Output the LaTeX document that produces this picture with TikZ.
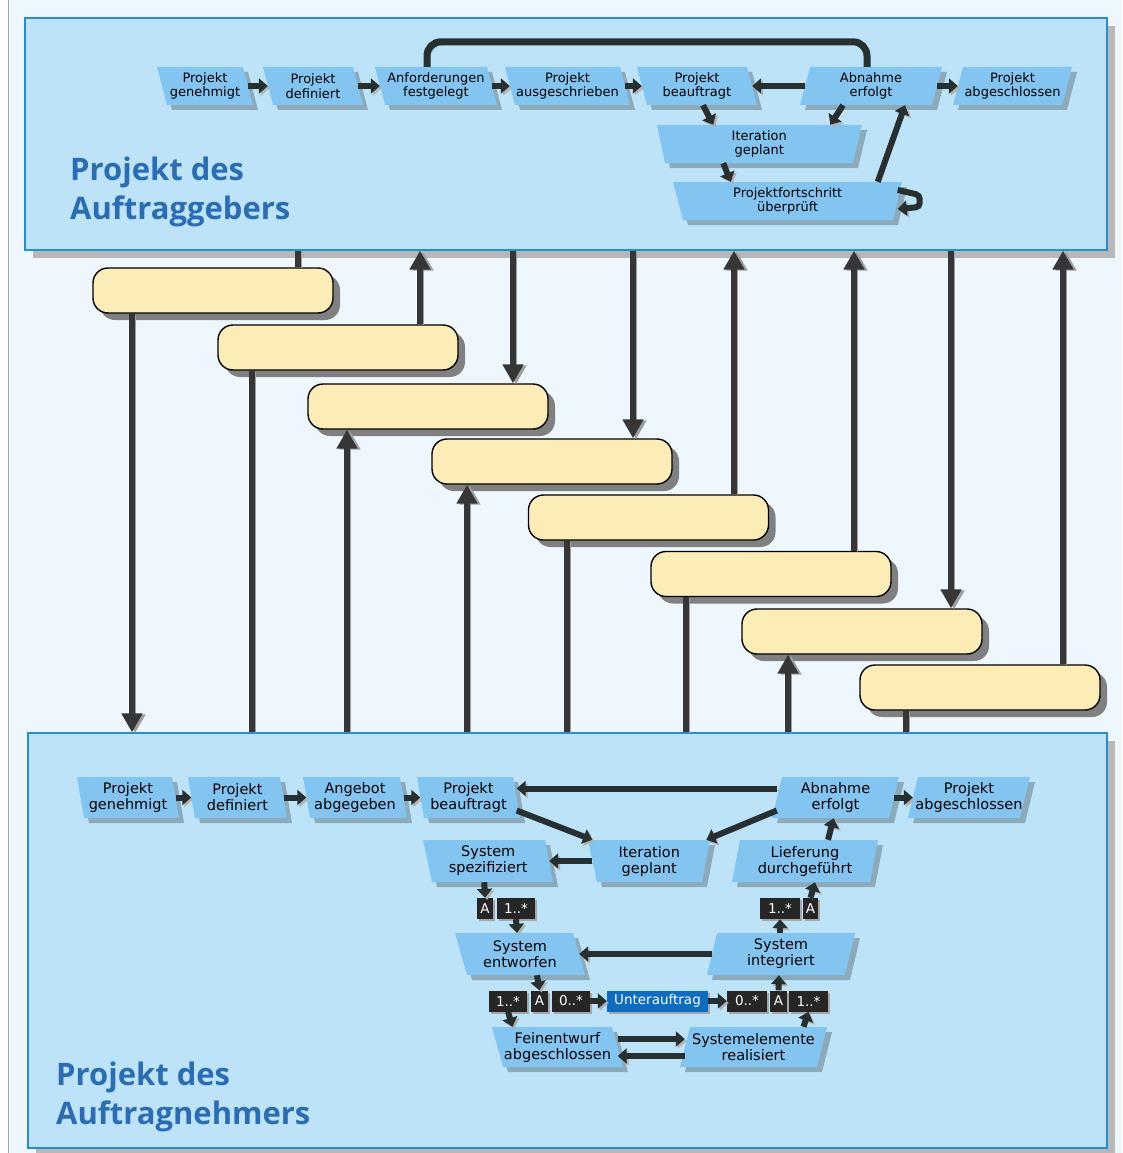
\documentclass[tikz,border=0pt]{standalone}
\usepackage{fontspec}
\setmainfont{DejaVu Sans}
\newfontfamily\titlefont{Open Sans}
\usetikzlibrary{arrows.meta}
\definecolor{pagebg}{HTML}{EFF7FE}
\definecolor{boxfill}{HTML}{BDE3F9}
\definecolor{boxline}{HTML}{2A8AD4}
\definecolor{gatefill}{HTML}{83C5F1}
\definecolor{yel}{HTML}{FCEDB6}
\definecolor{conncol}{HTML}{363636}
\definecolor{inkcol}{HTML}{263030}
\definecolor{titleblue}{HTML}{2A6DB5}
\definecolor{darklab}{HTML}{262626}
\definecolor{ublue}{HTML}{0C6BC2}
% name, x top-left, x top-right, x bottom-left, x bottom-right, y top, y bottom, text
\newcommand\gatenode[8]{%
  \fill[black,opacity=0.25] (#2+5,#6+5) -- (#3+5,#6+5) -- (#5+5,#7+5) -- (#4+5,#7+5) -- cycle;
  \fill[gatefill] (#2,#6) -- (#3,#6) -- (#5,#7) -- (#4,#7) -- cycle;
  \node[gtext, minimum width={(#3+#5-#2-#4)/2}, minimum height={#7-#6}] (#1) at ({(#2+#3+#4+#5)/4},{(#6+#7)/2}) {#8};}
\newcommand\labnode[5]{%
  \node[lab, minimum width={#3-#2}] (#1) at ({(#2+#3)/2},#4) {#5};}
\begin{document}
\begin{tikzpicture}[x=1pt,y=-1pt,
  bigbox/.style={draw=boxline, line width=1.3pt, fill=boxfill, inner sep=0pt,
    preaction={fill=black!28, transform canvas={shift={(8pt,-8pt)}}}},
  ybox/.style={draw=black, line width=1.4pt, fill=yel, rounded corners=15pt,
    minimum width=240pt, minimum height=45pt, inner sep=0pt,
    preaction={fill=black!50, transform canvas={shift={(7pt,-7pt)}}}},
  vline/.style={draw=conncol, line width=6pt,
    preaction={draw=black!38, transform canvas={shift={(3pt,-1pt)}}}},
  bigtip/.style={-{Triangle[length=19pt,width=20pt]}},
  inarr/.style={draw=inkcol, line width=6pt, -{Triangle[length=9pt,width=15pt]},
    preaction={draw=black!30, transform canvas={shift={(2pt,-2pt)}}}},
  loopline/.style={draw=inkcol, line width=7pt, rounded corners=14pt,
    preaction={draw=black!30, transform canvas={shift={(3pt,-3pt)}}}},
  lab/.style={fill=darklab, text=white, inner sep=0pt, minimum height=21pt,
    font=\fontsize{13.5}{13.5}\selectfont,
    preaction={fill=black!35, transform canvas={shift={(2pt,-2pt)}}}},
  ttl/.style={text=titleblue, inner sep=0pt, align=left,
    font=\titlefont\bfseries\fontsize{31}{39}\selectfont},
  gtext/.style={inner sep=0pt, align=center, font=\fontsize{13}{14.5}\selectfont}
]
\useasboundingbox (0,0) rectangle (1122,1153);
\fill[pagebg] (0,0) rectangle (1122,1153);
\fill[white] (0,0) rectangle (8,1153);
\draw[black!35, line width=1pt] (8.5,0) -- (8.5,1153);

% ---------- big boxes
\node[bigbox, minimum width=1082pt, minimum height=232pt] (topbox) at (566,134) {};
\node[bigbox, minimum width=1079pt, minimum height=415pt] (botbox) at (567.5,940.5) {};

% ---------- Auftraggeber
\gatenode{tPG}{157}{243}{167}{253}{67}{105}{Projekt\\genehmigt}
\gatenode{tPD}{263}{353}{273}{363}{67}{105}{Projekt\\definiert}
\gatenode{tAF}{375}{487}{385}{497}{67}{105}{Anforderungen\\festgelegt}
\gatenode{tPA}{505}{620}{515}{630}{67}{105}{Projekt\\ausgeschrieben}
\gatenode{tPB}{637}{747}{647}{757}{67}{105}{Projekt\\beauftragt}
\gatenode{tAE}{810}{942}{800}{932}{67}{105}{Abnahme\\erfolgt}
\gatenode{tPAbg}{963}{1072}{953}{1062}{67}{105}{Projekt\\abgeschlossen}
\gatenode{tIG}{657}{862}{665}{853}{125}{163}{Iteration\\geplant}
\gatenode{tPF}{673}{902}{683}{893}{182}{220}{Projektfortschritt\\überprüft}

\draw[inarr] (tPG) -- (tPD);
\draw[inarr] (tPD) -- (tAF);
\draw[inarr] (tAF) -- (tPA);
\draw[inarr] (tPA) -- (tPB);
\draw[inarr] (tAE) -- (tPB);
\draw[inarr] (tAE) -- (tPAbg);
\draw[loopline] ([xshift=-4pt]tAE.north) -- ++(0,-25) -| ([xshift=-9pt]tAF.north);
\draw[inarr] ([xshift=6pt]tPB.south) -- ([xshift=-46pt]tIG.north);
\draw[inarr] ([xshift=-28pt]tAE.south) -- ([xshift=71pt]tIG.north);
\draw[inarr] ([xshift=-36pt]tIG.south) -- ([xshift=-57pt]tPF.north);
\draw[inarr] ([xshift=90pt]tPF.north) -- ([xshift=34pt]tAE.south);
\draw[inarr, rounded corners=4pt] ([yshift=11pt]tPF.east) -- ++(22,5) -- ++(0,12) -- ([yshift=-8pt]tPF.east);

\node[ttl, anchor=north west] (tttl) at (70,157) {Projekt des\\Auftraggebers};

% ---------- Auftragnehmer
\begin{scope}[gtext/.style={inner sep=0pt, align=center, font=\fontsize{14.5}{16}\selectfont}]
\gatenode{bPG}{77}{172}{84}{179}{777}{818}{Projekt\\genehmigt}
\gatenode{bPD}{188}{280}{195}{287}{777}{818}{Projekt\\definiert}
\gatenode{bAA}{303}{400}{310}{407}{777}{818}{Angebot\\abgegeben}
\gatenode{bPB}{417}{513}{424}{520}{777}{818}{Projekt\\beauftragt}
\gatenode{bAE}{782}{899}{772}{889}{777}{818}{Abnahme\\erfolgt}
\gatenode{bPAbg}{918}{1030}{908}{1020}{777}{818}{Projekt\\abgeschlossen}
\gatenode{bSS}{423}{545}{432}{553}{840}{882}{System\\spezifiziert}
\gatenode{bIG}{588}{710}{597}{702}{840}{882}{Iteration\\geplant}
\gatenode{bLD}{740}{878}{732}{870}{840}{882}{Lieferung\\durchgeführt}
\gatenode{bSE}{455}{573}{467}{585}{933}{975}{System\\entworfen}
\gatenode{bSI}{717}{855}{707}{845}{933}{975}{System\\integriert}
\gatenode{bFA}{492}{612}{503}{623}{1027}{1067}{Feinentwurf\\abgeschlossen}
\gatenode{bSR}{690}{827}{680}{817}{1027}{1067}{Systemelemente\\realisiert}
\end{scope}

\labnode{lA1}{477}{493}{908.5}{A}
\labnode{l1a}{497}{535}{908.5}{1..*}
\labnode{r1a}{760}{800}{908.5}{1..*}
\labnode{rA1}{803}{818}{908.5}{A}
\labnode{m1}{489}{527}{1001}{1..*}
\labnode{mA}{531}{548}{1001}{A}
\labnode{m0}{552}{590}{1001}{0..*}
\node[lab, fill=ublue, minimum width=101pt] (U) at (657.5,1001) {Unterauftrag};
\labnode{n0}{727}{767}{1001}{0..*}
\labnode{nA}{770}{787}{1001}{A}
\labnode{n1}{789}{828}{1001}{1..*}

\draw[inarr] (bPG) -- (bPD);
\draw[inarr] (bPD) -- (bAA);
\draw[inarr] (bAA) -- (bPB);
\draw[inarr] ([yshift=9pt]bAE.west) -- ([yshift=9pt]bPB.east);
\draw[inarr] (bAE) -- (bPAbg);
\draw[inarr] ([yshift=-13pt]bPB.east) -- (bIG.north west);
\draw[inarr] ([yshift=-13pt]bAE.west) -- (bIG.north east);
\draw[inarr] (bIG) -- (bSS);
\draw[inarr] ([xshift=-4pt]bSS.south) -- (lA1.north);
\draw[inarr] (l1a.south) -- ([xshift=-3pt]bSE.north);
\draw[inarr] (bSI) -- (bSE);
\draw[inarr] ([xshift=17pt]bSE.south) -- (mA.north);
\draw[inarr] (m1.south) -- ([xshift=-45pt]bFA.north);
\draw[inarr] (m0) -- (U);
\draw[inarr] (U) -- (n0);
\draw[inarr] (nA.north) -- ([xshift=-2pt]bSI.south);
\draw[inarr] ([xshift=50pt]bSR.north) -- (n1.south);
\draw[inarr] ([yshift=8pt]bFA.east) -- ([yshift=8pt]bSR.west);
\draw[inarr] ([yshift=-9pt]bSR.west) -- ([yshift=-9pt]bFA.east);
\draw[inarr] ([xshift=-1pt]bSI.north) -- (r1a.south);
\draw[inarr] (rA1.north) -- ([xshift=10pt]bLD.south);
\draw[inarr] ([xshift=23pt]bLD.north) -- ([xshift=-2pt]bAE.south);

\node[ttl, anchor=north west] (bttl) at (56,1062) {Projekt des\\Auftragnehmers};

% ---------- decision gates between the two projects
\node[ybox] (Y1) at (213,290.5) {};
\node[ybox] (Y2) at (338,347.5) {};
\node[ybox] (Y3) at (428,406.5) {};
\node[ybox] (Y4) at (552,461.5) {};
\node[ybox] (Y5) at (648.5,517.5) {};
\node[ybox] (Y6) at (771,574) {};
\node[ybox] (Y7) at (862,631.5) {};
\node[ybox] (Y8) at (980,687.5) {};

\coordinate (v1) at (298,0);
\coordinate (v2) at (132,0);
\coordinate (v3) at (420,0);
\coordinate (v4) at (252,0);
\coordinate (v5) at (513,0);
\coordinate (v6) at (347,0);
\coordinate (v7) at (633,0);
\coordinate (v8) at (467,0);
\coordinate (v9) at (734,0);
\coordinate (v10) at (567,0);
\coordinate (v11) at (854,0);
\coordinate (v12) at (686,0);
\coordinate (v13) at (951,0);
\coordinate (v14) at (788,0);
\coordinate (v15) at (1063,0);
\coordinate (v16) at (906,0);

\draw[vline] (topbox.south -| v1) -- (Y1.north -| v1);
\draw[vline, bigtip] (Y1.south -| v2) -- (botbox.north -| v2);
\draw[vline, bigtip] (Y2.north -| v3) -- (topbox.south -| v3);
\draw[vline] (Y2.south -| v4) -- (botbox.north -| v4);
\draw[vline, bigtip] (topbox.south -| v5) -- (Y3.north -| v5);
\draw[vline, bigtip] (botbox.north -| v6) -- (Y3.south -| v6);
\draw[vline, bigtip] (topbox.south -| v7) -- (Y4.north -| v7);
\draw[vline, bigtip] (botbox.north -| v8) -- (Y4.south -| v8);
\draw[vline, bigtip] (Y5.north -| v9) -- (topbox.south -| v9);
\draw[vline] (Y5.south -| v10) -- (botbox.north -| v10);
\draw[vline, bigtip] (Y6.north -| v11) -- (topbox.south -| v11);
\draw[vline] (Y6.south -| v12) -- (botbox.north -| v12);
\draw[vline, bigtip] (topbox.south -| v13) -- (Y7.north -| v13);
\draw[vline, bigtip] (botbox.north -| v14) -- (Y7.south -| v14);
\draw[vline, bigtip] (Y8.north -| v15) -- (topbox.south -| v15);
\draw[vline] (Y8.south -| v16) -- (botbox.north -| v16);
\end{tikzpicture}
\end{document}
